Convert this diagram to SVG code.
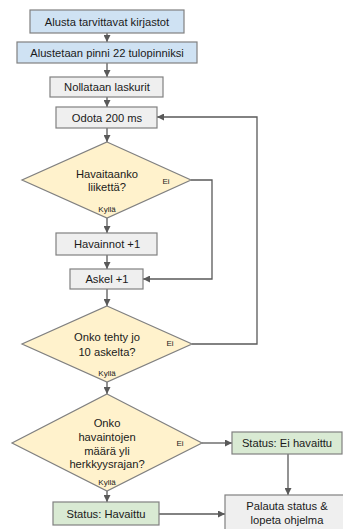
<svg xmlns="http://www.w3.org/2000/svg" width="343" height="529" viewBox="0 0 343 529">
  <defs>
    <marker id="arrow" viewBox="0 0 10 10" refX="10" refY="5" markerWidth="7" markerHeight="7" markerUnits="userSpaceOnUse" orient="auto">
      <path d="M0,0 L10,5 L0,10 z" fill="#595959"/>
    </marker>
    <style>
      .box { stroke: #808080; stroke-width: 1.2; }
      .blue { fill: #cfe2f3; }
      .gray { fill: #efefef; }
      .yellow { fill: #fff2cc; }
      .green { fill: #d9ead3; }
      .t { font-family: "Liberation Sans", Arial, sans-serif; font-size: 11.2px; fill: #1a1a1a; text-anchor: middle; }
      .s { font-family: "Liberation Sans", Arial, sans-serif; font-size: 8px; fill: #1a1a1a; text-anchor: middle; }
      .c { fill: none; stroke: #595959; stroke-width: 1.3; marker-end: url(#arrow); }
    </style>
  </defs>
  <rect width="343" height="529" fill="#ffffff"/>

  <g id="connectors">
    <path class="c" d="M107,33 V42"/>
    <path class="c" d="M107,63 V77"/>
    <path class="c" d="M107,97 V107"/>
    <path class="c" d="M107,128 V142"/>
    <path class="c" d="M107,218 V233"/>
    <path class="c" d="M107,255 V269"/>
    <path class="c" d="M191,180 H212 V279 H143"/>
    <path class="c" d="M107,289 V306"/>
    <path class="c" d="M192,344 H257 V117 H157"/>
    <path class="c" d="M107,382 V394"/>
    <path class="c" d="M107,491 V502"/>
    <path class="c" d="M202,443 H232"/>
    <path class="c" d="M288,454 V495"/>
    <path class="c" d="M159,514 H225"/>
  </g>

  <g id="init-libs">
    <rect class="box blue" x="30" y="10" width="154" height="23"/>
    <text class="t" x="107" y="25.5">Alusta tarvittavat kirjastot</text>
  </g>
  <g id="init-pin">
    <rect class="box blue" x="17" y="42" width="180" height="21"/>
    <text class="t" x="107" y="56.5">Alustetaan pinni 22 tulopinniksi</text>
  </g>
  <g id="reset-counters">
    <rect class="box gray" x="50" y="77" width="113" height="20"/>
    <text class="t" x="107" y="91">Nollataan laskurit</text>
  </g>
  <g id="wait">
    <rect class="box gray" x="56" y="107" width="101" height="21"/>
    <text class="t" x="107" y="121.5">Odota 200 ms</text>
  </g>
  <g id="motion-check">
    <polygon class="box yellow" points="107,142 191,180 107,218 22,180"/>
    <text class="t" x="107" y="178">Havaitaanko</text>
    <text class="t" x="107" y="191">liikettä?</text>
    <text class="s" x="166" y="184">Ei</text>
    <text class="s" x="107" y="212">Kyllä</text>
  </g>
  <g id="detections-inc">
    <rect class="box gray" x="56" y="233" width="101" height="22"/>
    <text class="t" x="107" y="248">Havainnot +1</text>
  </g>
  <g id="step-inc">
    <rect class="box gray" x="70" y="269" width="73" height="20"/>
    <text class="t" x="107" y="283">Askel +1</text>
  </g>
  <g id="steps-check">
    <polygon class="box yellow" points="107,306 192,344 107,382 22,344"/>
    <text class="t" x="107" y="341">Onko tehty jo</text>
    <text class="t" x="107" y="356">10 askelta?</text>
    <text class="s" x="170" y="346">Ei</text>
    <text class="s" x="107" y="376">Kyllä</text>
  </g>
  <g id="threshold-check">
    <polygon class="box yellow" points="107,394 202,443 107,491 12,443"/>
    <text class="t" x="107" y="427">Onko</text>
    <text class="t" x="107" y="441">havaintojen</text>
    <text class="t" x="107" y="455">määrä yli</text>
    <text class="t" x="107" y="468">herkkyysrajan?</text>
    <text class="s" x="180" y="446">Ei</text>
    <text class="s" x="107" y="485">Kyllä</text>
  </g>
  <g id="status-none">
    <rect class="box green" x="232" y="432" width="110" height="22"/>
    <text class="t" x="287" y="447">Status: Ei havaittu</text>
  </g>
  <g id="status-detected">
    <rect class="box green" x="53" y="502" width="106" height="23"/>
    <text class="t" x="106" y="517.5">Status: Havaittu</text>
  </g>
  <g id="return">
    <rect class="box gray" x="225" y="495" width="125" height="40"/>
    <text class="t" x="287" y="510">Palauta status &amp;</text>
    <text class="t" x="287" y="523.5">lopeta ohjelma</text>
  </g>
</svg>
